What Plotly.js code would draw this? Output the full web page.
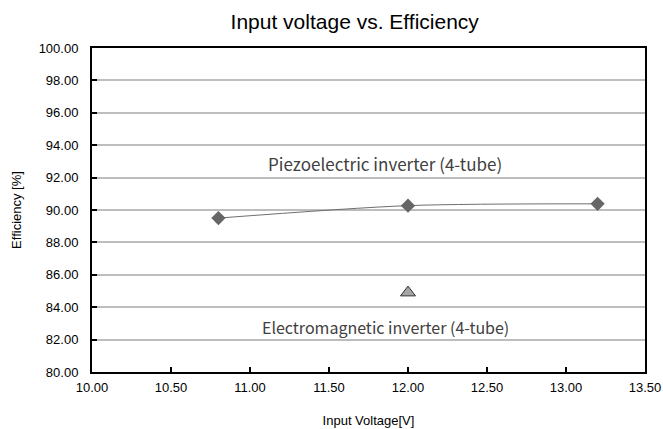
<!DOCTYPE html>
<html>
<head>
<meta charset="utf-8">
<script src="https://cdn.plot.ly/plotly-3.0.1.min.js"></script>
<style>html,body{margin:0;padding:0;background:#fff;}#chart{width:663px;height:429px;}</style>
</head>
<body>
<div id="chart"></div>
<script>
var piezoVoltage = [10.8, 12.0, 13.2];
var piezoEfficiency = [89.5, 90.27, 90.38];
var emVoltage = [12.0];
var emEfficiency = [84.9];
var xTickVals = [10, 10.5, 11, 11.5, 12, 12.5, 13, 13.5];
var yTickVals = [80, 82, 84, 86, 88, 90, 92, 94, 96, 98, 100];
var labelPiezo = "Piezoelectric inverter (4-tube)";
var labelEM = "Electromagnetic inverter (4-tube)";

var traces = [
  {
    x: piezoVoltage, y: piezoEfficiency, type: 'scatter', mode: 'lines+markers',
    line: {color: '#6e6e6e', width: 1, shape: 'spline', smoothing: 0.8},
    marker: {symbol: 'diamond', size: 11, color: '#666666'},
    showlegend: false, hoverinfo: 'none'
  },
  {
    x: emVoltage, y: emEfficiency, type: 'scatter', mode: 'markers',
    marker: {symbol: 'triangle-up', size: 13, color: '#a6a6a6', line: {color: '#333333', width: 1}},
    showlegend: false, hoverinfo: 'none'
  }
];

var axisFont = {family: 'Liberation Sans, Arial, sans-serif', size: 13, color: '#000'};
var layout = {
  width: 663, height: 429,
  margin: {l: 92, r: 18, t: 48, b: 57},
  paper_bgcolor: '#fff', plot_bgcolor: '#fff',
  title: {text: 'Input voltage vs. Efficiency', x: 0.535, xanchor: 'center', y: 0.95, yanchor: 'middle',
    font: {family: 'Liberation Sans, Arial, sans-serif', size: 21, color: '#000'}},
  xaxis: {
    range: [10, 13.5], tickvals: xTickVals, ticktext: xTickVals.map(function(v){return v.toFixed(2);}),
    showgrid: false, zeroline: false, showline: true, linecolor: '#000', linewidth: 2, mirror: true,
    ticks: 'inside', ticklen: 5, tickwidth: 2, tickcolor: '#000',
    ticklabelstandoff: 2,
    tickfont: axisFont,
    title: {text: 'Input Voltage[V]', font: axisFont, standoff: 22}
  },
  yaxis: {
    range: [80, 100], tickvals: yTickVals, ticktext: yTickVals.map(function(v){return v.toFixed(2);}),
    showgrid: true, gridcolor: '#bdbdbd', gridwidth: 2, zeroline: false,
    showline: true, linecolor: '#000', linewidth: 2, mirror: true,
    ticks: 'inside', ticklen: 5, tickwidth: 2, tickcolor: '#000',
    ticklabelstandoff: 9,
    tickfont: axisFont,
    title: {text: 'Efficiency [%]', font: axisFont, standoff: 14}
  },
  annotations: [
    {x: 11.855, y: 92.9, xref: 'x', yref: 'y', text: labelPiezo, showarrow: false,
      font: {family: 'Noto Sans CJK JP, sans-serif', size: 17, color: '#404040'}},
    {x: 11.86, y: 82.8, xref: 'x', yref: 'y', text: labelEM, showarrow: false,
      font: {family: 'Noto Sans CJK JP, sans-serif', size: 16, color: '#404040'}}
  ]
};

Plotly.newPlot('chart', traces, layout, {displayModeBar: false, staticPlot: true});
</script>
</body>
</html>
